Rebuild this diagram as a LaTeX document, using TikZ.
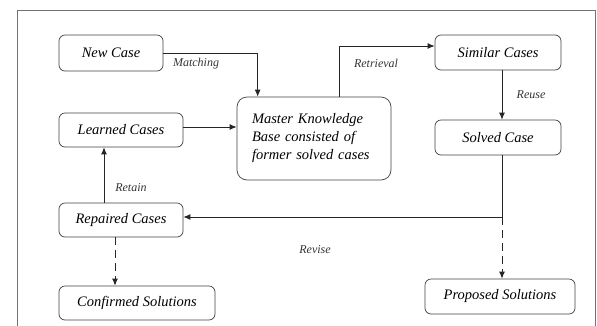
\documentclass[tikz,border=0pt]{standalone}
\usepackage{fontspec}
\setmainfont{Liberation Serif}
\usetikzlibrary{arrows.meta}
\begin{document}
\begin{tikzpicture}[x=1pt,y=-1pt,
  box/.style={draw=black!75,line width=0.7pt,rounded corners=6pt,inner sep=0pt,font=\fontsize{14.5}{17}\selectfont\itshape},
  lbl/.style={font=\fontsize{12}{14}\selectfont\itshape,text=black!80,inner sep=0pt},
  arr/.style={draw=black!85,line width=0.9pt,-{Latex[length=7pt,width=6pt]}},
  dsh/.style={arr,dash pattern=on 8pt off 5pt}]
\useasboundingbox (0,0) rectangle (597,325);
\begin{scope}
\clip (0,0) rectangle (597,325);
\draw[black!55,line width=1pt] (17,340) -- (17,10) -- (595,10) -- (595,340);
\end{scope}
\node[box,minimum width=104pt,minimum height=36pt] (nc) at (111,53) {New Case};
\node[box,minimum width=124pt,minimum height=34pt] (lc) at (121,130) {Learned Cases};
\node[box,rounded corners=10pt,minimum width=154pt,minimum height=83pt,text width=124pt,align=left] (mkb) at (314,138.5) {Master Knowledge\\[1pt]Base consisted of\\[1pt]former solved cases\\[-2pt]};
\node[box,minimum width=126pt,minimum height=35pt] (sim) at (498,52.5) {Similar Cases};
\node[box,minimum width=126pt,minimum height=35pt] (sol) at (498,137.5) {Solved Case};
\node[box,minimum width=124pt,minimum height=34pt] (rep) at (121,220) {Repaired Cases};
\node[box,minimum width=156pt,minimum height=34pt] (conf) at (137,303) {Confirmed Solutions};
\node[box,minimum width=150pt,minimum height=35pt] (prop) at (500,296.5) {Proposed Solutions};
\coordinate (rv) at (502,217);
\draw[arr] (nc.east) -| ([xshift=21pt]mkb.north west);
\draw[arr] (lc.east |- 0,127) -- (mkb.west |- 0,127);
\draw[arr] ([xshift=103pt]mkb.north west) |- (sim.west |- 0,46);
\draw[arr] (sim.south -| rv) -- (sol.north -| rv);
\draw[arr] (sol.south -| rv) -- (rv) -- (rep.east |- rv);
\draw[dsh] (rv) -- (prop.north -| rv);
\draw[arr] (rep.north -| 104,0) -- (lc.south -| 104,0);
\draw[dsh] (rep.south -| 115,0) -- (conf.north -| 115,0);
\node[lbl] (l1) at (196,64) {Matching};
\node[lbl] (l2) at (376,63) {Retrieval};
\node[lbl] (l3) at (531,95) {Reuse};
\node[lbl] (l4) at (315,250) {Revise};
\node[lbl] (l5) at (131,188) {Retain};
\end{tikzpicture}
\end{document}
